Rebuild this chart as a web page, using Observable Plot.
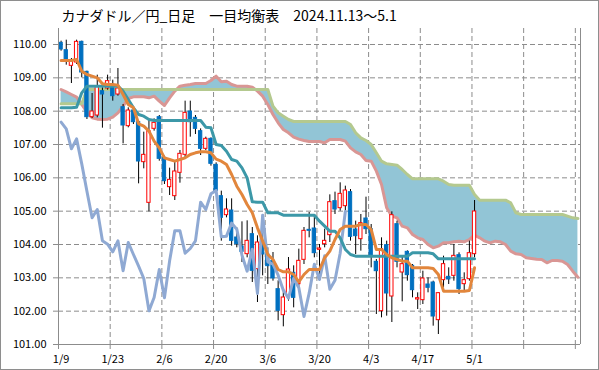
<!DOCTYPE html>
<html><head><meta charset="utf-8">
<script src="https://cdn.jsdelivr.net/npm/d3@7"></script>
<script src="https://cdn.jsdelivr.net/npm/@observablehq/plot@0.6"></script>
<style>
body{margin:0;background:#fff;}
#chart svg{display:block;outline:1px solid #8e8e8e;outline-offset:-1px;}
</style></head><body><div id="chart"></div>
<script>
const title = "カナダドル／円_日足　一目均衡表　2024.11.13～5.1";
const dateLabels = ["1/9","1/23","2/6","2/20","3/6","3/20","4/3","4/17","5/1"];
const labelIndex = [0,10,20,30,40,50,60,70,80];
const yTicks = [101,102,103,104,105,106,107,108,109,110];

const open = [110.05,109.83,109.36,109.46,110.08,109.18,107.82,107.87,108.60,108.68,
108.73,108.50,108.12,107.55,108.02,107.67,106.47,105.25,107.47,107.82,
106.60,105.72,105.45,106.15,106.69,107.99,107.80,107.40,106.87,107.17,
106.39,105.45,104.88,105.02,104.21,103.94,103.71,104.31,103.26,104.00,
103.70,103.51,102.66,101.88,102.45,103.15,102.81,103.54,104.44,104.48,
103.84,104.01,104.28,105.30,105.09,105.15,105.57,104.45,104.16,104.78,
104.46,103.48,102.00,103.98,102.44,104.61,103.16,103.78,103.36,102.35,
102.33,102.80,102.86,101.73,102.93,103.03,103.06,103.68,102.81,102.96,
103.71];
const high = [110.10,110.13,109.58,110.13,110.10,109.20,108.53,109.08,108.78,109.08,
108.93,109.28,108.20,108.10,108.10,107.70,107.37,107.77,107.77,107.87,
106.65,106.29,106.50,106.82,108.30,108.30,107.87,107.47,107.22,107.20,
106.45,105.60,105.37,105.37,104.50,104.68,104.71,104.51,104.26,104.90,
103.90,103.76,102.91,102.66,103.61,103.36,103.86,104.51,104.96,104.86,
104.00,104.46,105.49,105.57,105.85,105.75,105.65,104.70,104.90,105.42,
104.60,103.55,104.20,104.10,104.98,104.70,103.66,103.81,103.40,102.55,
103.20,103.00,102.90,102.55,103.65,103.30,104.00,103.75,103.15,104.10,
105.32];
const low = [109.80,109.38,108.83,109.40,109.00,107.75,107.78,107.80,107.49,108.63,
108.30,108.45,107.02,107.50,107.60,105.82,106.27,104.98,107.40,106.50,
105.80,105.47,105.32,105.84,106.60,107.22,107.30,106.67,106.82,106.35,
105.50,104.10,104.80,103.95,103.90,103.46,103.60,102.86,102.26,103.06,
102.80,102.90,101.71,101.53,102.30,102.10,102.70,103.40,104.20,103.60,
103.10,103.90,104.06,104.90,105.00,105.00,104.10,103.70,103.80,104.30,
103.30,101.90,101.80,101.85,101.66,103.30,102.28,102.90,102.40,102.05,
102.20,102.55,101.55,101.30,102.70,102.80,102.90,102.50,102.60,102.90,
103.60];
const close = [109.85,109.53,109.53,110.08,109.16,107.82,107.99,108.73,108.50,108.90,
108.45,108.68,107.57,108.02,107.67,106.49,106.69,107.40,107.65,106.57,
105.90,105.94,106.19,106.72,107.95,107.67,107.47,106.87,107.17,106.42,
105.60,104.80,105.05,104.11,104.01,103.78,104.11,103.21,104.06,103.70,
103.35,102.98,102.01,102.41,103.25,102.40,103.51,104.41,104.41,103.74,
103.88,104.11,105.27,105.05,105.52,105.62,104.23,104.25,104.64,104.46,
103.68,103.20,103.86,102.53,104.88,103.48,103.41,103.08,102.63,102.39,
102.98,102.70,101.84,102.54,103.41,102.95,103.66,102.66,102.93,103.74,
104.99];

const tenkan = [109.52,109.52,109.52,109.55,109.20,109.10,109.05,109.00,108.82,108.80,
108.80,108.78,108.50,108.20,108.10,107.62,107.55,107.40,107.10,106.90,
106.60,106.55,106.50,106.55,106.60,106.70,106.75,106.78,106.78,106.75,
106.56,106.50,106.40,106.10,105.75,105.50,105.20,104.95,104.50,104.10,
103.70,103.55,103.25,103.18,103.18,103.10,102.88,103.10,103.25,103.25,
103.25,103.60,103.80,104.15,104.45,104.55,104.55,104.55,104.60,104.60,
104.45,103.85,103.85,103.70,103.60,103.55,103.50,103.50,103.30,103.30,
103.30,103.30,103.28,103.10,102.60,102.60,102.60,102.60,102.60,102.62,
103.30];
const kijun = [108.10,108.10,108.10,108.12,108.55,108.75,108.75,108.75,108.75,108.75,
108.75,108.75,108.60,108.35,108.10,107.90,107.85,107.75,107.72,107.72,
107.72,107.72,107.72,107.72,107.72,107.72,107.72,107.72,107.52,107.50,
107.00,106.97,106.80,106.55,106.50,106.30,106.00,105.28,105.27,105.27,
104.95,104.95,104.95,104.88,104.88,104.88,104.88,104.88,104.88,104.88,
104.70,104.55,104.40,104.40,104.20,103.85,103.70,103.65,103.65,103.65,
103.65,103.65,103.65,103.65,103.65,103.65,103.65,103.65,103.75,103.75,
103.75,103.75,103.72,103.57,103.57,103.57,103.57,103.57,103.57,103.57,
103.57];
const chikou = [107.67,107.47,106.87,107.17,106.42,105.60,104.80,105.05,104.11,104.01,
103.78,104.11,103.21,104.06,103.70,103.35,102.98,102.01,102.41,103.25,
102.40,103.51,104.41,104.41,103.74,103.88,104.11,105.27,105.05,105.52,
105.62,104.23,104.25,104.64,104.46,103.68,103.20,103.86,102.53,104.88,
103.48,103.41,103.08,102.63,102.39,102.98,102.70,101.84,102.54,103.41,
102.95,103.66,102.66,102.93,103.74,104.99];
const spanA = [108.22,108.22,108.22,108.22,108.22,108.65,108.65,108.65,108.65,108.65,
108.65,108.65,108.65,108.65,108.65,108.65,108.65,108.65,108.65,108.65,
108.65,108.65,108.65,108.65,108.65,108.65,108.65,108.65,108.65,108.65,
108.65,108.65,108.65,108.65,108.65,108.65,108.65,108.65,108.65,108.65,
108.65,108.15,107.95,107.85,107.75,107.69,107.69,107.69,107.69,107.69,
107.69,107.69,107.69,107.69,107.69,107.69,107.60,107.35,107.20,107.12,
107.00,106.75,106.50,106.42,106.40,106.38,106.25,106.10,105.97,105.97,
105.97,105.97,105.97,105.97,105.90,105.80,105.78,105.78,105.78,105.78,
105.50,105.33,105.33,105.33,105.33,105.33,105.33,105.25,104.95,104.90,
104.90,104.90,104.90,104.90,104.90,104.90,104.90,104.90,104.85,104.80,
104.78];
const spanB = [108.65,108.58,108.50,108.42,108.20,107.97,107.80,107.76,107.75,107.76,
107.82,107.95,108.15,108.38,108.43,108.43,108.43,108.40,108.45,108.30,
108.17,108.40,108.60,108.75,108.78,108.80,108.83,108.83,108.83,108.92,
109.05,108.88,108.90,108.80,108.75,108.75,108.75,108.72,108.60,108.45,
108.20,107.90,107.65,107.45,107.35,107.22,107.16,107.12,107.09,107.09,
107.09,107.05,107.15,107.15,107.15,107.10,106.90,106.78,106.70,106.52,
106.50,106.20,105.80,105.10,104.85,104.80,104.55,104.50,104.30,104.20,
104.15,104.00,103.90,103.95,104.05,104.05,104.08,104.10,104.08,104.15,
104.28,104.20,104.10,104.05,104.10,104.08,104.00,103.80,103.72,103.70,
103.60,103.58,103.56,103.55,103.45,103.52,103.52,103.50,103.40,103.20,
103.02];

const candles = open.map((o, i) => ({i, o, h: high[i], l: low[i], c: close[i]}));
const up = candles.filter(d => d.c >= d.o);
const down = candles.filter(d => d.c < d.o);
const span = spanA.map((a, i) => ({i, a, b: spanB[i]}));
const lineT = tenkan.map((v, i) => ({i, v}));
const lineK = kijun.map((v, i) => ({i, v}));
const lineC = chikou.map((v, i) => ({i, v}));
const cx = d => d.i + 0.5;
const nCat = spanA.length;
const xBounds = d3.range(0, nCat + 1, 10);
const gridX = xBounds.filter(v => v > 0);
const gridY = yTicks.filter(v => v > 101);
const halfW = 0.32;
const grey = "#8c8c8c";

const chart = Plot.plot({
  width: 599, height: 370,
  marginLeft: 58, marginRight: 19, marginTop: 28, marginBottom: 26,
  style: {fontFamily: "'Noto Sans CJK JP', 'Noto Sans', sans-serif", fontSize: "11px", color: "#000", background: "#fff"},
  x: {type: "linear", domain: [0, nCat], axis: null},
  y: {type: "linear", domain: [101, 110.48], axis: null},
  marks: [
    Plot.ruleY(gridY, {stroke: grey, strokeDasharray: "5,3"}),
    Plot.ruleX(gridX, {stroke: grey, strokeDasharray: "5,3"}),
    Plot.areaY(span, {x: cx, y1: "a", y2: "b", fill: "#92C5D6", curve: "linear"}),
    Plot.line(span, {x: cx, y: "b", stroke: "#D99694", strokeWidth: 3}),
    Plot.line(span, {x: cx, y: "a", stroke: "#B4C98F", strokeWidth: 3}),
    Plot.ruleX(candles, {x: cx, y1: "l", y2: "h", stroke: "#000", strokeWidth: 1}),
    Plot.rect(down, {x1: d => d.i + 0.5 - halfW, x2: d => d.i + 0.5 + halfW, y1: "o", y2: "c", fill: "#0070C0", stroke: "#0070C0", strokeWidth: 1}),
    Plot.rect(up, {x1: d => d.i + 0.5 - halfW, x2: d => d.i + 0.5 + halfW, y1: "o", y2: "c", fill: "#fff", stroke: "#FF0000", strokeWidth: 1}),
    Plot.line(lineC, {x: cx, y: "v", stroke: "#8FA9D3", strokeWidth: 3, strokeLinejoin: "round"}),
    Plot.line(lineK, {x: cx, y: "v", stroke: "#3C98A8", strokeWidth: 3, strokeLinejoin: "round"}),
    Plot.line(lineT, {x: cx, y: "v", stroke: "#E2863C", strokeWidth: 3, strokeLinejoin: "round"}),
    Plot.ruleX([0, nCat], {stroke: grey}),
    Plot.ruleY([101], {stroke: grey}),
    Plot.axisY({ticks: yTicks, tickFormat: d => d.toFixed(2), tickSize: 5, tickPadding: 7, stroke: grey, fill: "#000", fontSize: 11}),
    Plot.axisX({ticks: xBounds, tickFormat: () => "", tickSize: 5, stroke: grey}),
    Plot.axisX({ticks: labelIndex.map(v => v + 0.5), tickFormat: d => dateLabels[labelIndex.indexOf(Math.round(d - 0.5))], tickSize: 0, tickPadding: 11, fill: "#000", fontSize: 11}),
    Plot.text([title], {text: d => d, frameAnchor: "top-left", dx: 3, dy: -12, lineAnchor: "middle", textAnchor: "start", fontSize: 14, fill: "#000"})
  ]
});
document.getElementById("chart").appendChild(chart);
</script></body></html>
